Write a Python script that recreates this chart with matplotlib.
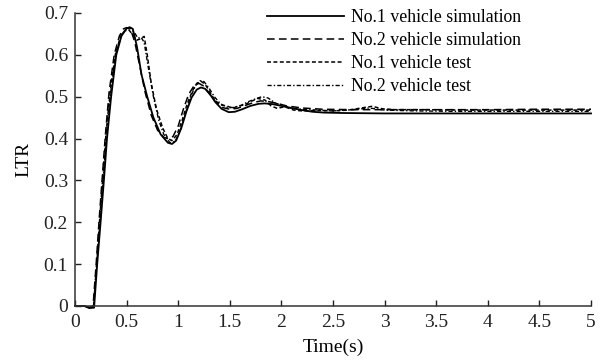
import numpy as np
from matplotlib import pyplot as plt

plt.rcParams['font.family'] = ['Liberation Serif', 'DejaVu Serif']

# No.1 vehicle simulation
t_sim1 = [0, 0.09, 0.14, 0.185, 0.215, 0.248, 0.28, 0.31, 0.35, 0.40, 0.45, 0.50, 0.53,
          0.56, 0.60, 0.645, 0.70, 0.76, 0.83, 0.90, 0.94, 0.98, 1.03, 1.08, 1.13,
          1.18, 1.22, 1.26, 1.31, 1.36, 1.42, 1.49, 1.55, 1.62, 1.70, 1.78, 1.84,
          1.92, 2.0, 2.1, 2.2, 2.3, 2.41, 2.6, 3.0, 3.5, 4.0, 4.5, 5.0]
v_sim1 = [0, 0, -0.005, -0.004, 0.1, 0.2, 0.3, 0.4, 0.5, 0.6, 0.645, 0.663, 0.666,
          0.662, 0.62, 0.552, 0.5, 0.45, 0.41, 0.39, 0.387, 0.395, 0.425, 0.465, 0.498,
          0.517, 0.522, 0.519, 0.505, 0.487, 0.471, 0.463, 0.464, 0.47, 0.478, 0.483, 0.484,
          0.482, 0.478, 0.473, 0.468, 0.464, 0.462, 0.461, 0.46, 0.46, 0.46, 0.46, 0.46]

# No.2 vehicle simulation
t_sim2 = [0, 0.09, 0.14, 0.175, 0.205, 0.235, 0.265, 0.295, 0.33, 0.38, 0.43, 0.47, 0.50,
          0.54, 0.58, 0.63, 0.68, 0.74, 0.80, 0.86, 0.90, 0.95, 1.0, 1.05, 1.10,
          1.15, 1.20, 1.25, 1.30, 1.36, 1.43, 1.50, 1.57, 1.65, 1.73, 1.80, 1.88,
          1.96, 2.05, 2.2, 2.4, 2.7, 3.0, 3.5, 4.0, 4.5, 5.0]
v_sim2 = [0, 0, -0.004, 0.0, 0.1, 0.21, 0.31, 0.41, 0.51, 0.6, 0.645, 0.662, 0.665,
          0.66, 0.63, 0.57, 0.51, 0.455, 0.42, 0.403, 0.40, 0.405, 0.43, 0.47, 0.505,
          0.525, 0.532, 0.525, 0.508, 0.488, 0.474, 0.47, 0.472, 0.479, 0.486, 0.49, 0.488,
          0.484, 0.478, 0.473, 0.47, 0.469, 0.469, 0.469, 0.469, 0.47, 0.47]

# No.1 vehicle test
t_test1 = [0, 0.09, 0.14, 0.18, 0.21, 0.24, 0.27, 0.30, 0.34, 0.39, 0.44, 0.48, 0.52,
           0.56, 0.60, 0.63, 0.67, 0.70, 0.74, 0.79, 0.85, 0.90, 0.94, 0.99, 1.04,
           1.09, 1.14, 1.18, 1.22, 1.26, 1.31, 1.36, 1.42, 1.47, 1.53, 1.58, 1.64,
           1.70, 1.77, 1.84, 1.90, 1.96, 2.03, 2.12, 2.2, 2.35, 2.5, 2.65, 2.8, 2.88,
           2.98, 3.1, 3.4, 3.8, 4.2, 4.6, 5.0]
v_test1 = [0, 0, -0.004, 0.0, 0.1, 0.21, 0.31, 0.41, 0.51, 0.6, 0.643, 0.657, 0.66,
           0.648, 0.635, 0.638, 0.644, 0.6, 0.53, 0.47, 0.425, 0.40, 0.395, 0.41, 0.445,
           0.485, 0.515, 0.532, 0.537, 0.53, 0.51, 0.49, 0.48, 0.478, 0.472, 0.478, 0.48,
           0.488, 0.496, 0.492, 0.478, 0.472, 0.476, 0.468, 0.466, 0.467, 0.466, 0.468, 0.474, 0.477,
           0.471, 0.469, 0.469, 0.468, 0.468, 0.468, 0.468]

# No.2 vehicle test
t_test2 = [0, 0.09, 0.14, 0.18, 0.21, 0.245, 0.275, 0.305, 0.345, 0.395, 0.45, 0.50, 0.53,
           0.57, 0.61, 0.64, 0.67, 0.71, 0.76, 0.81, 0.86, 0.92, 0.97, 1.02, 1.07,
           1.12, 1.17, 1.21, 1.25, 1.30, 1.35, 1.41, 1.47, 1.53, 1.60, 1.67, 1.74,
           1.81, 1.87, 1.94, 2.02, 2.1, 2.2, 2.35, 2.5, 2.7, 2.85, 3.0, 3.3, 3.7, 4.1, 4.5, 5.0]
v_test2 = [0, 0, -0.004, 0.0, 0.1, 0.21, 0.31, 0.41, 0.51, 0.6, 0.648, 0.663, 0.665,
           0.655, 0.64, 0.642, 0.63, 0.57, 0.5, 0.445, 0.41, 0.39, 0.393, 0.42, 0.46,
           0.5, 0.527, 0.538, 0.536, 0.52, 0.5, 0.483, 0.475, 0.474, 0.478, 0.487, 0.494,
           0.5, 0.497, 0.485, 0.478, 0.472, 0.47, 0.468, 0.466, 0.469, 0.473, 0.468, 0.466, 0.465, 0.465, 0.465, 0.465]

fig = plt.figure(figsize=(6, 3.6), dpi=100)
ax = fig.add_axes([0.125, 0.15, 0.86, 0.814])

# small negative dip at the start runs just under the axis, so no clipping
ax.plot(t_sim1, v_sim1, color='black', lw=1.3, clip_on=False, label='No.1 vehicle simulation')
ax.plot(t_sim2, v_sim2, color='black', lw=1.1, dashes=(5, 2.8), clip_on=False, label='No.2 vehicle simulation')
ax.plot(t_test1, v_test1, color='black', lw=1.1, dashes=(2.6, 1.6), clip_on=False, label='No.1 vehicle test')
ax.plot(t_test2, v_test2, color='black', lw=1.0, dashes=(3, 1.5, 1, 1.5), clip_on=False, label='No.2 vehicle test')

ax.set_xlim(0, 5)
ax.set_ylim(0, 0.7)
ax.set_xticks(np.arange(0, 5.01, 0.5))
ax.set_xticklabels(['0', '0.5', '1', '1.5', '2', '2.5', '3', '3.5', '4', '4.5', '5'])
ax.set_yticks(np.arange(0, 0.71, 0.1))
ax.set_yticklabels(['0', '0.1', '0.2', '0.3', '0.4', '0.5', '0.6', '0.7'])
ax.tick_params(direction='in', length=4, width=1, labelsize=14, colors='#222222')
ax.tick_params(axis='y', pad=5)
ax.tick_params(axis='x', pad=6)

for s in ['top', 'right']:
    ax.spines[s].set_visible(False)
for s in ['left', 'bottom']:
    ax.spines[s].set_linewidth(1.1)
    ax.spines[s].set_color('#333333')

ax.set_xlabel('Time(s)', fontsize=14, labelpad=5)
ax.set_ylabel('LTR', fontsize=14, labelpad=8)

ax.legend(loc='upper left', bbox_to_anchor=(0.373, 1.012), frameon=False, fontsize=12.8,
          handlelength=4.3, handletextpad=0.4, labelspacing=0.33, borderpad=0, borderaxespad=0)

fig.savefig('out.png', dpi=100)
